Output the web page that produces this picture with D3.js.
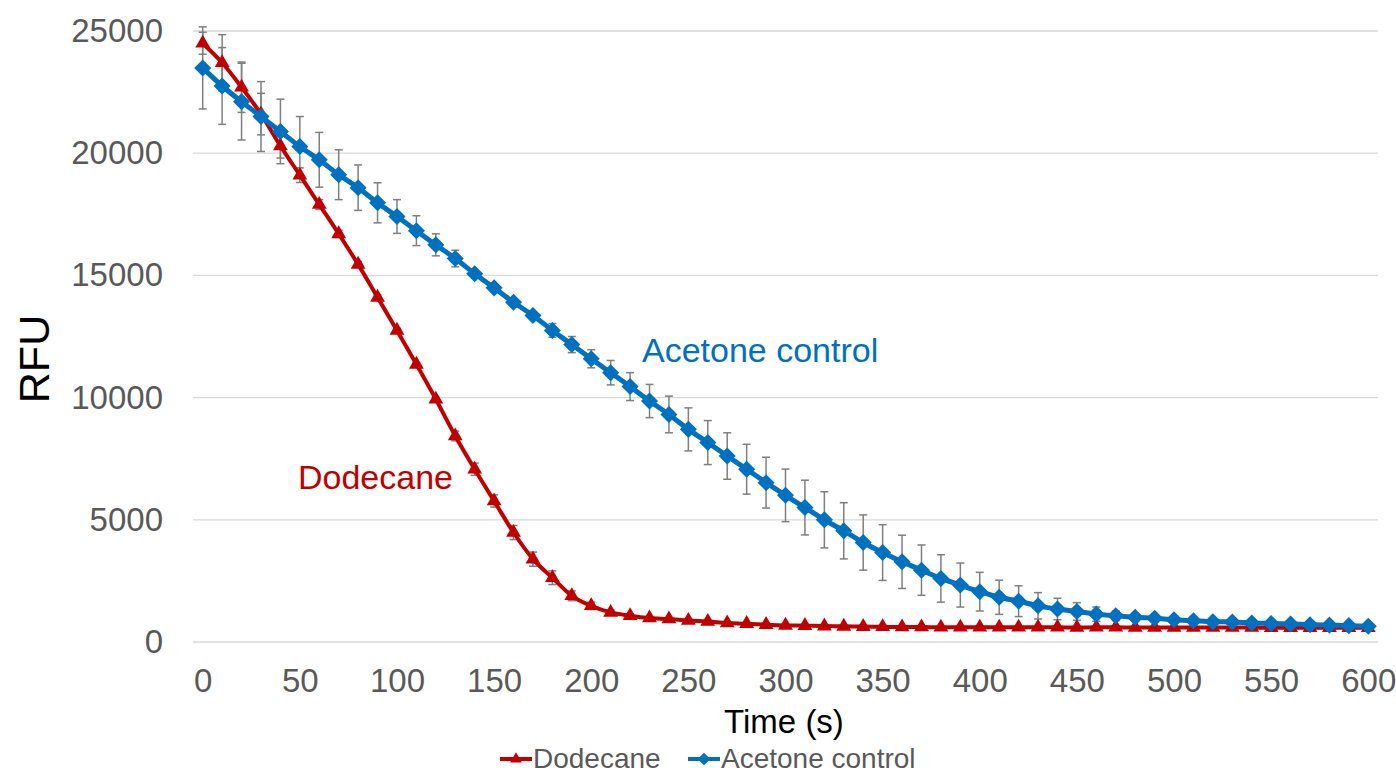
<!DOCTYPE html>
<html>
<head>
<meta charset="utf-8">
<script src="https://cdn.jsdelivr.net/npm/d3@7"></script>
<style>
  body { margin: 0; background: #fff; }
  svg { font-family: "Liberation Sans", Arial, sans-serif; }
</style>
</head>
<body>
<div id="chart"></div>
<script>
// data, one point every 10 s
var times = [0, 10, 20, 30, 40, 50, 60, 70, 80, 90, 100, 110, 120, 130, 140, 150, 160, 170, 180, 190, 200,
    210, 220, 230, 240, 250, 260, 270, 280, 290, 300, 310, 320, 330, 340, 350, 360, 370, 380, 390, 400,
    410, 420, 430, 440, 450, 460, 470, 480, 490, 500, 510, 520, 530, 540, 550, 560, 570, 580, 590, 600];

var dodecane = [24500, 23700, 22700, 21600, 20300, 19100, 17900, 16700, 15450, 14100, 12750,
    11360, 9930, 8430, 7070, 5770, 4480, 3390, 2630, 1890, 1480,
    1210, 1075, 980, 940, 880, 840, 780, 750, 710, 680,
    670, 650, 640, 630, 620, 610, 610, 600, 600, 600,
    600, 600, 600, 600, 590, 600, 600, 590, 590, 590,
    590, 590, 590, 590, 580, 580, 580, 580, 580, 580];
var dodecaneErr = [450, 1150, 1030, 850, 500, 300, 200, 150, 120, 100, 80,
    80, 80, 200, 250, 250, 290, 290, 280, 200, 150,
    100, 80, 60, 60, 60, 50, 50, 50, 50, 50,
    50, 50, 50, 50, 50, 50, 50, 50, 50, 50,
    50, 50, 50, 50, 50, 50, 50, 50, 50, 50,
    50, 50, 50, 50, 50, 50, 50, 50, 50, 50];

var acetone = [23490, 22750, 22110, 21500, 20890, 20270, 19730, 19120, 18590, 17970, 17410,
    16830, 16250, 15690, 15070, 14490, 13900, 13360, 12750, 12170, 11590,
    11020, 10450, 9860, 9310, 8700, 8160, 7610, 7070, 6520, 6000,
    5500, 5000, 4550, 4070, 3660, 3280, 2940, 2600, 2330, 2060,
    1830, 1670, 1480, 1350, 1250, 1140, 1070, 1010, 970, 910,
    870, 830, 820, 780, 760, 740, 710, 690, 670, 640];
var acetoneErr = [1680, 1570, 1570, 1430, 1320, 1230, 1120, 1020, 930, 820, 690,
    610, 450, 340, 120, 100, 100, 150, 280, 330, 370,
    500, 570, 680, 750, 880, 900, 950, 1020, 1040, 1075,
    1120, 1150, 1150, 1130, 1140, 1090, 1030, 970, 900, 790,
    700, 630, 540, 440, 360, 290, 200, 150, 120, 100,
    90, 80, 80, 70, 70, 70, 60, 60, 60, 60];

var xTicks = [0, 50, 100, 150, 200, 250, 300, 350, 400, 450, 500, 550, 600];
var yTicks = [0, 5000, 10000, 15000, 20000, 25000];

var width = 1396, height = 775;
var plot = { left: 193, right: 1378, top: 31, bottom: 642 };

var red = "#c00000", blue = "#0070c0", grey = "#595959";

var svg = d3.select("#chart").append("svg")
    .attr("width", width)
    .attr("height", height);

// half a category of padding either side, like the original
var x = d3.scaleLinear().domain([-5, 605]).range([plot.left, plot.right]);
var y = d3.scaleLinear().domain([0, 25000]).range([plot.bottom, plot.top]);

// gridlines
svg.append("g")
    .selectAll("line")
    .data(yTicks)
    .join("line")
    .attr("x1", plot.left)
    .attr("x2", plot.right)
    .attr("y1", d => y(d))
    .attr("y2", d => y(d))
    .attr("stroke", "#d9d9d9")
    .attr("stroke-width", 1.3);

// axes, text only
var yAxis = svg.append("g")
    .attr("transform", "translate(" + (plot.left - 30) + ",0)")
    .call(d3.axisLeft(y).tickValues(yTicks).tickFormat(d3.format("d")).tickSize(0).tickPadding(0));
var xAxis = svg.append("g")
    .attr("transform", "translate(0," + (plot.bottom + 26) + ")")
    .call(d3.axisBottom(x).tickValues(xTicks).tickFormat(d3.format("d")).tickSize(0).tickPadding(0));
[xAxis, yAxis].forEach(function (g) {
    g.select(".domain").remove();
    g.selectAll("text")
        .attr("fill", grey)
        .style("font-family", "Liberation Sans, Arial, sans-serif")
        .style("font-size", "33px");
});
xAxis.selectAll("text").attr("dy", "0.72em");

svg.append("text")
    .attr("x", 784)
    .attr("y", 733)
    .attr("text-anchor", "middle")
    .style("font-size", "33px")
    .text("Time (s)");

svg.append("text")
    .attr("transform", "translate(49,359) rotate(-90)")
    .attr("text-anchor", "middle")
    .style("font-size", "43px")
    .text("RFU");

// diamonds drawn as rotated squares, like the spreadsheet markers
var series = [
    { name: "Dodecane", values: dodecane, err: dodecaneErr, color: red, marker: d3.symbolTriangle, size: 95, rot: 0, lw: 4 },
    { name: "Acetone control", values: acetone, err: acetoneErr, color: blue, marker: d3.symbolSquare, size: 145, rot: 45, lw: 5 }
];

// error bars
series.forEach(function (s) {
    var g = svg.append("g").attr("stroke", "#7f7f7f").attr("stroke-width", 1.5);
    times.forEach(function (t, i) {
        var cx = x(t), y1 = y(s.values[i] + s.err[i]), y2 = y(s.values[i] - s.err[i]);
        g.append("line").attr("x1", cx).attr("x2", cx).attr("y1", y1).attr("y2", y2);
        g.append("line").attr("x1", cx - 4).attr("x2", cx + 4).attr("y1", y1).attr("y2", y1);
        g.append("line").attr("x1", cx - 4).attr("x2", cx + 4).attr("y1", y2).attr("y2", y2);
    });
});

var line = d3.line()
    .x((d, i) => x(times[i]))
    .y(d => y(d))
    .curve(d3.curveMonotoneX);

series.forEach(function (s) {
    svg.append("path")
        .datum(s.values)
        .attr("fill", "none")
        .attr("stroke", s.color)
        .attr("stroke-width", s.lw)
        .attr("d", line);
    svg.append("g")
        .selectAll("path")
        .data(s.values)
        .join("path")
        .attr("transform", (d, i) => "translate(" + x(times[i]) + "," + y(d) + ") rotate(" + s.rot + ")")
        .attr("d", d3.symbol().type(s.marker).size(s.size))
        .attr("fill", s.color);
});

// in-plot labels
svg.append("text")
    .attr("x", 642).attr("y", 362)
    .attr("fill", blue)
    .style("font-size", "34px")
    .text("Acetone control");
svg.append("text")
    .attr("x", 298).attr("y", 489)
    .attr("fill", red)
    .style("font-size", "34px")
    .text("Dodecane");

// legend
var legendItems = [
    { name: "Dodecane", color: red, marker: d3.symbolTriangle, size: 60, rot: 0, x: 500 },
    { name: "Acetone control", color: blue, marker: d3.symbolSquare, size: 80, rot: 45, x: 688 }
];
var legend = svg.append("g").attr("transform", "translate(0,759)");
legendItems.forEach(function (d) {
    legend.append("line")
        .attr("x1", d.x).attr("x2", d.x + 32)
        .attr("stroke", d.color).attr("stroke-width", 4);
    legend.append("path")
        .attr("transform", "translate(" + (d.x + 16) + ",0) rotate(" + d.rot + ")")
        .attr("d", d3.symbol().type(d.marker).size(d.size))
        .attr("fill", d.color);
    legend.append("text")
        .attr("x", d.x + 33).attr("y", 9)
        .attr("fill", grey)
        .style("font-size", "28px")
        .text(d.name);
});
</script>
</body>
</html>
